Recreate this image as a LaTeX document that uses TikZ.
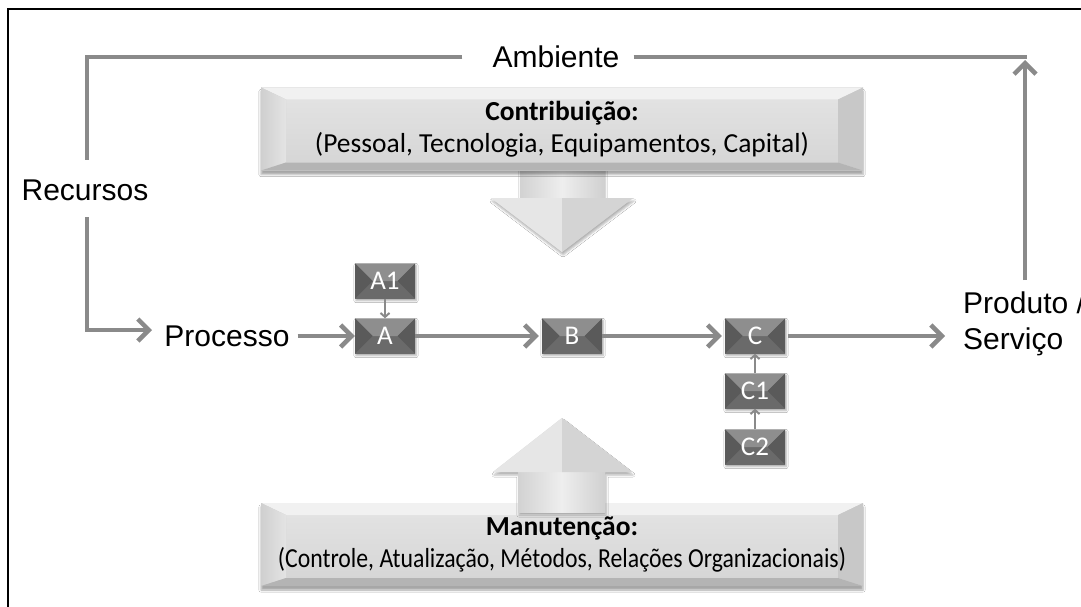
\documentclass[tikz,border=0pt]{standalone}
\usepackage{fontspec}
\usepackage{graphicx}
\setmainfont{Liberation Sans}
\newfontfamily\calfont{Carlito}
\usetikzlibrary{arrows.meta,calc,shadows.blur}
\definecolor{lineg}{HTML}{8A8A8A}
\definecolor{sbmid}{HTML}{6A6A6A}
\definecolor{sbtop}{HTML}{8E8E8E}
\definecolor{sbside}{HTML}{5A5A5A}
\definecolor{bbface1}{HTML}{E2E2E2}
\definecolor{bbface2}{HTML}{D6D6D6}
\definecolor{bbtop}{HTML}{F1F1F1}
\definecolor{bbl1}{HTML}{CFCFCF}
\definecolor{bbl2}{HTML}{E4E4E4}
\definecolor{bbr}{HTML}{C8C8C8}
\definecolor{bbbot}{HTML}{B4B4B4}
\definecolor{arwL}{HTML}{D2D2D2}
\definecolor{arwM}{HTML}{EEEEEE}
\definecolor{arwR}{HTML}{D0D0D0}
\definecolor{arwHL}{HTML}{E6E6E6}
\definecolor{arwHR}{HTML}{D4D4D4}
\tikzset{
  lbl/.style={font=\fontsize{30}{36}\selectfont, inner sep=0pt},
  gline/.style={draw=lineg, line width=4.5pt},
  garrow/.style={gline, -{Straight Barb[length=11pt,width=22pt]}},
  tarrow/.style={draw=lineg, line width=2pt, -{Straight Barb[length=4pt,width=9pt]}},
  sbox/.style={minimum width=60pt, minimum height=35pt, inner sep=0pt, text=white,
    font=\calfont\fontsize{27}{27}\selectfont, fill=sbmid,
    blur shadow={shadow xshift=1pt, shadow yshift=-2pt, shadow blur steps=4, shadow opacity=35},
    path picture={
      \path (path picture bounding box.north west) coordinate (q1)
            (path picture bounding box.north east) coordinate (q2)
            (path picture bounding box.south east) coordinate (q3)
            (path picture bounding box.south west) coordinate (q4);
      \fill[sbtop] (q1) -- (q2) -- ($(q2)+(-17.5,17.5)$) -- ($(q1)+(17.5,17.5)$) -- cycle;
      \fill[sbside] (q1) -- ($(q1)+(17.5,17.5)$) -- (q4) -- cycle;
      \fill[sbside] (q2) -- ($(q2)+(-17.5,17.5)$) -- (q3) -- cycle;
    }},
  bbox/.style={minimum width=602pt, minimum height=83pt, inner sep=0pt, align=center,
    fill=bbface2, font=\calfont\fontsize{27.5}{32}\selectfont,
    blur shadow={shadow xshift=0pt, shadow yshift=-4pt, shadow opacity=35},
    path picture={
      \path (path picture bounding box.north west) coordinate (q1)
            (path picture bounding box.north east) coordinate (q2)
            (path picture bounding box.south east) coordinate (q3)
            (path picture bounding box.south west) coordinate (q4);
      \fill[top color=bbface1, bottom color=bbface2] ($(q1)+(25,12)$) rectangle ($(q3)+(-25,-8)$);
      \fill[bbtop] (q1) -- (q2) -- ($(q2)+(-25,12)$) -- ($(q1)+(25,12)$) -- cycle;
      \fill[left color=bbl1, right color=bbl2] (q1) -- ($(q1)+(25,12)$) -- ($(q4)+(25,-8)$) -- (q4) -- cycle;
      \fill[bbr] (q2) -- ($(q2)+(-25,12)$) -- ($(q3)+(-25,-8)$) -- (q3) -- cycle;
      \fill[bbbot] (q4) -- ($(q4)+(25,-8)$) -- ($(q3)+(-25,-8)$) -- (q3) -- cycle;
    }},
}
\begin{document}
\begin{tikzpicture}[x=1pt,y=-1pt]
\useasboundingbox (0,0) rectangle (1081,607);
\fill[white] (0,0) rectangle (1081,607);
% frame
\draw[line width=2pt] (8,607) -- (8,9) -- (1081,9);

% down arrow (behind top box)
\path[fill=arwHR, blur shadow={shadow xshift=1pt, shadow yshift=-3pt, shadow opacity=30}]
  (520,160) -- (604,160) -- (604,198) -- (633,198) -- (562,252) -- (491,198) -- (520,198) -- cycle;
\fill[left color=arwL, right color=arwR, middle color=arwM] (520,160) rectangle (604,199);
\fill[arwHL] (491,198) -- (562,198) -- (562,252) -- cycle;
\fill[arwHR] (562,198) -- (633,198) -- (562,252) -- cycle;

% big boxes
\node[bbox] (contrib) at (562,129) {\textbf{Contribuição:}\\(Pessoal, Tecnologia, Equipamentos, Capital)};
\node[bbox] (manut) at (562,544.5) {\textbf{Manutenção:}\\\resizebox{568pt}{\height}{(Controle, Atualização, Métodos, Relações Organizacionais)}};

% up arrow (over bottom box)
\path[fill=arwHR, blur shadow={shadow xshift=1pt, shadow yshift=-3pt, shadow opacity=30}]
  (562,418) -- (632,472) -- (605,472) -- (605,512) -- (518,512) -- (518,472) -- (493,472) -- cycle;
\fill[left color=arwL, right color=arwR, middle color=arwM] (518,471) rectangle (605,512);
\fill[arwHL] (562,418) -- (562,472) -- (493,472) -- cycle;
\fill[arwHR] (562,418) -- (632,472) -- (562,472) -- cycle;

% labels
\node[lbl] (amb) at (556,57) {Ambiente};
\node[lbl] (rec) at (85,190) {Recursos};
\node[lbl] (proc) at (227,336) {Processo};
\node[lbl, align=left, anchor=west] (prod) at (963,324) {Produto /\\Serviço};

% small boxes
\node[sbox] (A1) at (385,281) {A1};
\node[sbox] (A) at (385,336) {A};
\node[sbox] (B) at (572,336) {B};
\node[sbox] (C) at (755,336) {C};
\node[sbox] (C1) at (755,391) {C1};
\node[sbox] (C2) at (755,447) {C2};

% environment loop
\coordinate (r1) at (87,160);
\coordinate (r2) at (87,217);
\coordinate (pin) at (152,330);
\coordinate (ae) at (1027,57);
\coordinate (pt) at (1025,280);
\draw[gline] ([xshift=-30pt]amb.west) -| (r1);
\draw[gline] ([xshift=14pt]amb.east) -- (ae);
\draw[garrow] (r2) |- (pin);
\draw[garrow, shorten >=3pt] (pt) -- (pt |- ae);

% process flow
\draw[garrow] ([xshift=8pt]proc.east) -- (A.west);
\draw[garrow] (A.east) -- ([xshift=-3pt]B.west);
\draw[garrow] (B.east) -- ([xshift=-3pt]C.west);
\draw[garrow] ([xshift=3pt]C.east) -- ([xshift=-18pt]C.east -| prod.west);
\draw[tarrow] (A1.south) -- (A.north);
\draw[tarrow] (C1.north) -- (C.south);
\draw[tarrow] (C2.north) -- (C1.south);
\end{tikzpicture}
\end{document}
